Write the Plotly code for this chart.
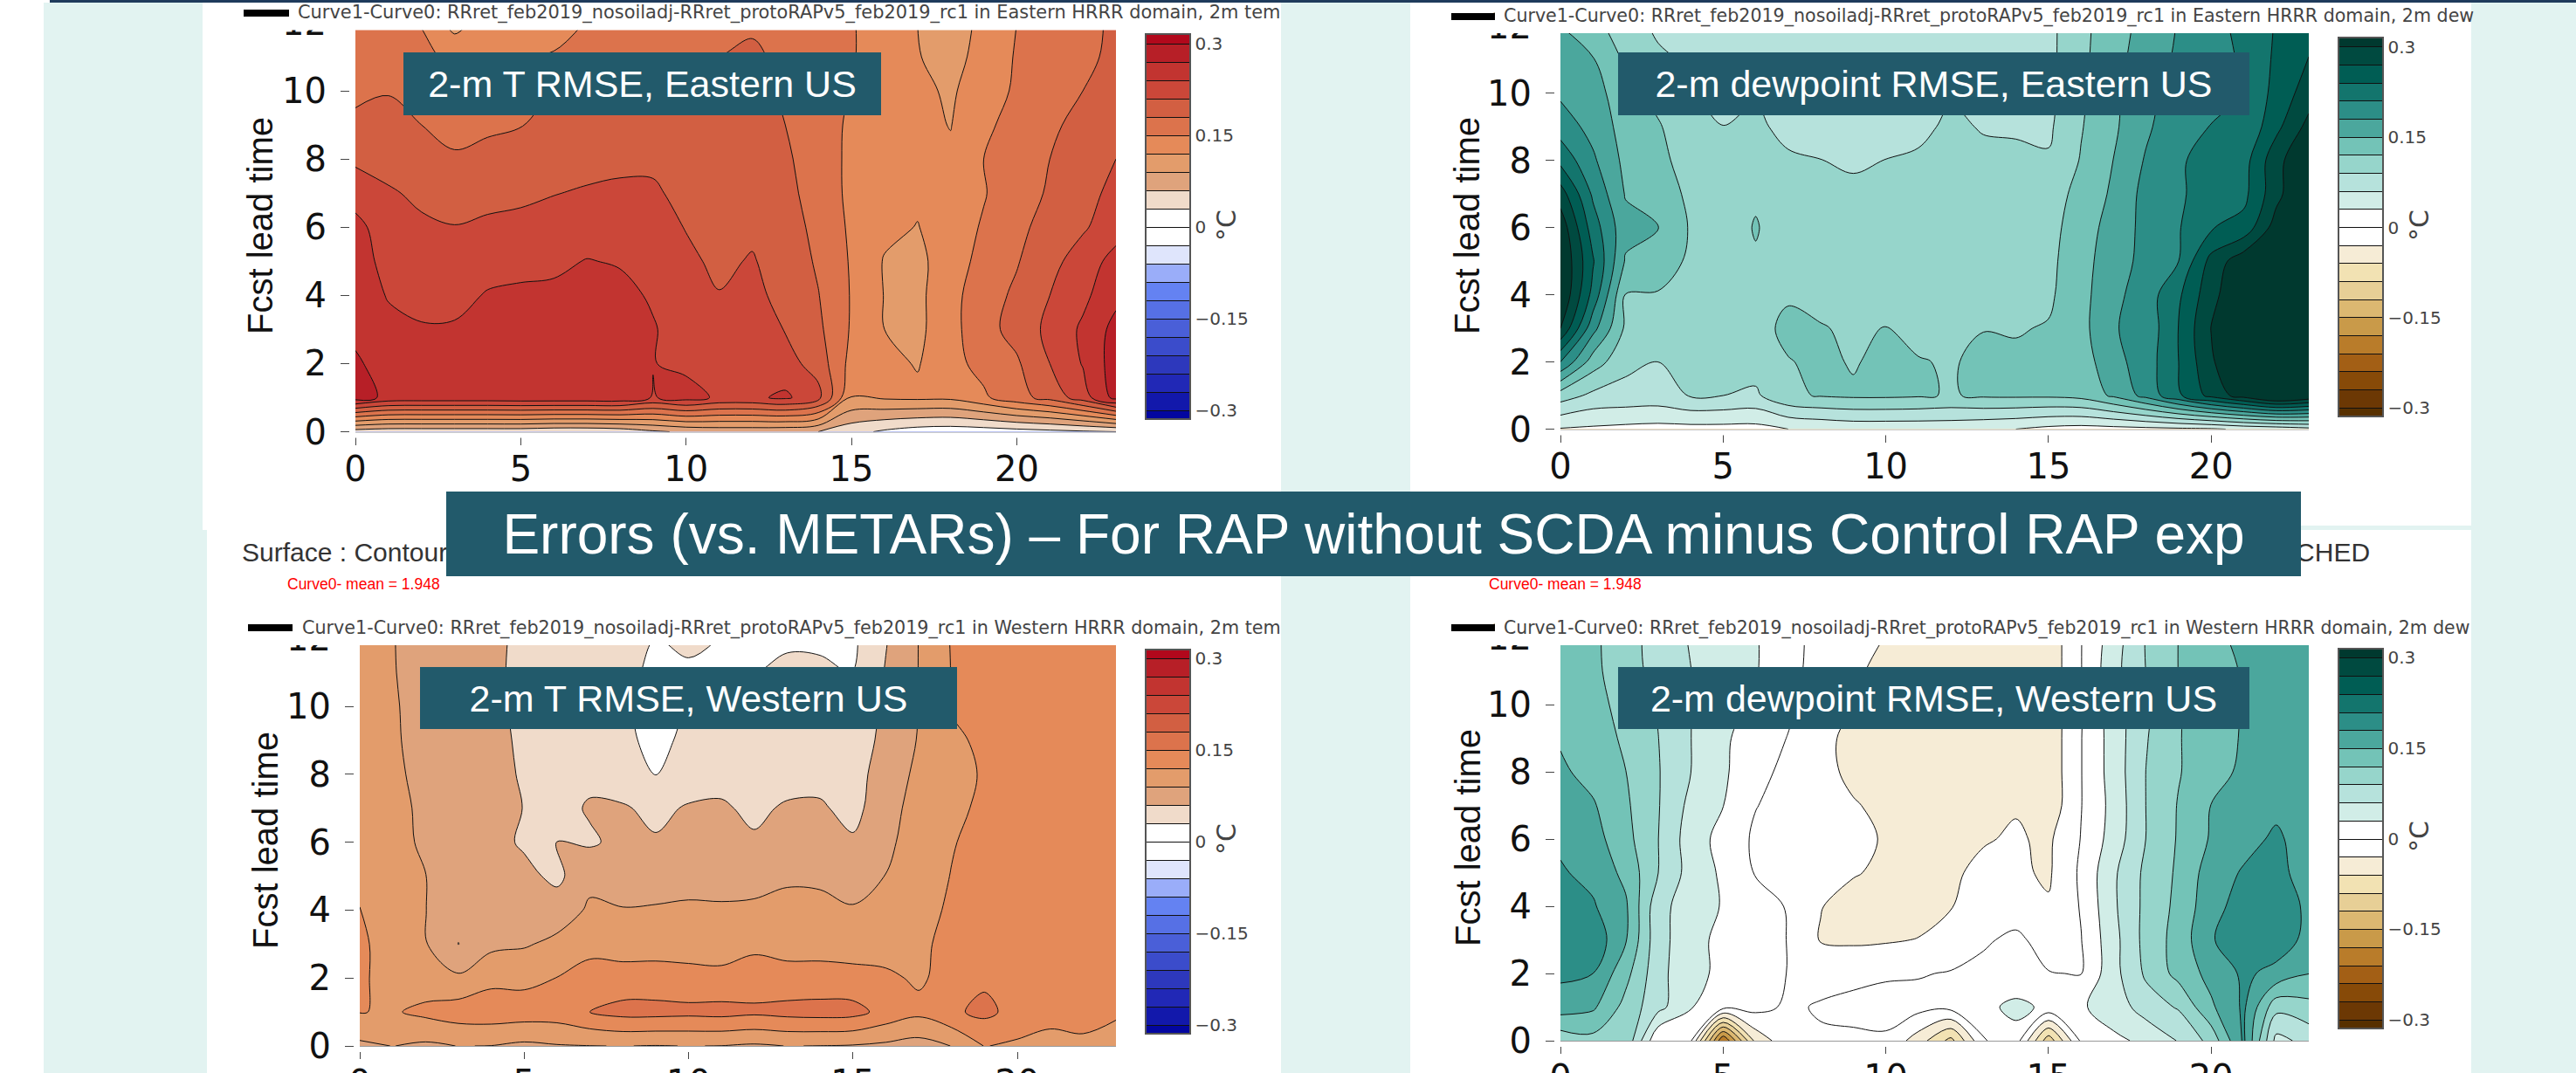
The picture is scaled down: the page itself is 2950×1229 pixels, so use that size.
import plotly.graph_objects as go

W, H = 2950, 1229

hours = list(range(24))
leads = list(range(13))

# Values: one list per hour (x = 0..23), lead time 0..12
t_east = [
 [.045,.285,.275,.262,.257,.254,.25,.226,.205,.188,.172,.165,.16],
 [.04,.262,.255,.248,.238,.23,.222,.213,.2,.186,.179,.17,.165],
 [.04,.26,.25,.242,.233,.225,.214,.205,.193,.18,.172,.16,.148],
 [.04,.26,.252,.243,.232,.222,.211,.197,.183,.172,.16,.14,.11],
 [.04,.26,.254,.247,.242,.23,.216,.2,.187,.176,.165,.148,.133],
 [.04,.262,.258,.25,.243,.235,.218,.204,.192,.179,.166,.15,.135],
 [.035,.262,.26,.252,.245,.235,.222,.209,.198,.188,.18,.152,.14],
 [.035,.262,.262,.255,.248,.241,.228,.213,.2,.192,.186,.168,.151],
 [.04,.262,.262,.256,.247,.238,.225,.214,.205,.197,.19,.178,.162],
 [.055,.238,.241,.242,.237,.228,.22,.213,.206,.198,.19,.18,.165],
 [.065,.252,.233,.228,.223,.215,.209,.204,.198,.193,.188,.178,.165],
 [.07,.235,.228,.22,.211,.205,.202,.198,.195,.192,.188,.18,.167],
 [.07,.235,.228,.22,.215,.212,.205,.2,.197,.195,.192,.189,.172],
 [.068,.245,.222,.209,.204,.198,.193,.188,.184,.18,.175,.168,.16],
 [.06,.22,.197,.186,.181,.176,.172,.168,.167,.164,.162,.16,.158],
 [.04,.1195,.14,.147,.148,.147,.145,.143,.143,.145,.149,.152,.152],
 [.025,.124,.128,.12,.119,.118,.127,.13,.135,.138,.14,.137,.137],
 [.015,.126,.118,.113,.113,.113,.119,.125,.128,.128,.128,.122,.12],
 [.012,.126,.14,.14,.14,.135,.135,.13,.125,.119,.115,.105,.10],
 [.014,.145,.16,.17,.168,.16,.153,.148,.15,.146,.14,.135,.13],
 [.018,.17,.176,.19,.185,.178,.172,.168,.165,.157,.153,.152,.15],
 [.022,.19,.21,.218,.21,.2,.192,.183,.18,.174,.17,.165,.16],
 [.026,.226,.242,.245,.233,.225,.206,.2,.195,.19,.18,.175,.175],
 [.03,.28,.285,.28,.262,.25,.228,.218,.21,.202,.19,.185,.183],
]

td_east = [
 [.028,.105,.21,.30,.33,.33,.32,.285,.232,.196,.175,.162,.15],
 [.025,.083,.135,.19,.23,.243,.225,.205,.185,.17,.165,.152,.13],
 [.022,.08,.098,.115,.119,.147,.16,.148,.142,.138,.128,.115,.103],
 [.02,.078,.09,.11,.118,.135,.1505,.138,.127,.123,.111,.095,.085],
 [.02,.092,.10,.105,.11,.115,.117,.113,.109,.10,.093,.086,.08],
 [.02,.09,.098,.10,.103,.105,.105,.103,.10,.0905,.08,.078,.078],
 [.02,.085,.103,.105,.108,.117,.122,.116,.10,.097,.087,.078,.076],
 [.03,.115,.118,.13,.115,.108,.105,.102,.095,.08,.077,.076,.075],
 [.035,.122,.128,.122,.11,.105,.102,.098,.0905,.08,.077,.076,.075],
 [.04,.125,.117,.115,.108,.104,.10,.098,.085,.08,.077,.076,.075],
 [.04,.125,.13,.121,.108,.104,.102,.10,.0905,.08,.077,.076,.075],
 [.04,.123,.122,.11,.106,.104,.102,.10,.096,.08,.077,.076,.075],
 [.04,.118,.117,.107,.106,.104,.102,.101,.10,.098,.086,.08,.078],
 [.035,.124,.128,.119,.108,.105,.103,.102,.10,.087,.078,.076,.075],
 [.03,.125,.125,.118,.11,.106,.105,.103,.097,.086,.08,.078,.077],
 [.022,.125,.127,.122,.115,.112,.108,.105,.093,.085,.082,.082,.082],
 [.018,.13,.135,.14,.14,.14,.138,.13,.122,.118,.115,.113,.112],
 [.02,.155,.17,.178,.172,.165,.16,.155,.1505,.145,.143,.14,.137],
 [.022,.19,.195,.19,.195,.19,.19,.19,.183,.175,.173,.165,.16],
 [.024,.235,.24,.241,.235,.21,.208,.205,.205,.2,.19,.185,.182],
 [.026,.28,.295,.301,.29,.28,.238,.226,.225,.211,.2,.195,.198],
 [.035,.315,.34,.33,.33,.32,.25,.232,.228,.213,.211,.215,.22],
 [.04,.35,.36,.36,.36,.36,.315,.29,.29,.262,.25,.245,.242],
 [.05,.33,.36,.36,.36,.36,.36,.34,.33,.31,.285,.271,.26],
]

t_west = [
 [.084,.121,.125,.125,.1205,.115,.112,.11,.11,.11,.11,.11,.11],
 [.0905,.117,.108,.108,.105,.103,.1,.1,.1,.098,.096,.093,.092],
 [.085,.127,.103,.092,.0905,.0905,.085,.083,.075,.068,.068,.067,.068],
 [.0905,.135,.095,.0595,.07,.072,.072,.07,.068,.068,.068,.066,.066],
 [.0895,.137,.112,.083,.078,.072,.07,.068,.066,.065,.064,.064,.065],
 [.084,.135,.112,.087,.078,.068,.056,.0595,.058,.057,.056,.055,.055],
 [.088,.135,.1205,.097,.075,.053,.0601,.05,.048,.047,.046,.045,.045],
 [.0895,.15,.135,.108,.094,.083,.056,.063,.053,.05,.048,.045,.045],
 [.0905,.16,.131,.108,.091,.08,.068,.062,.048,.04,.036,.04,.043],
 [.089,.16,.131,.109,.092,.08,.062,.055,.0295,.018,.018,.022,.03],
 [.0905,.158,.129,.108,.093,.083,.07,.062,.048,.04,.032,.027,.034],
 [.0895,.16,.127,.108,.092,.084,.072,.063,.052,.045,.036,.028,.0295],
 [.086,.156,.133,.114,.095,.08,.063,.055,.05,.045,.038,.0295,.028],
 [.0905,.16,.13,.11,.096,.087,.072,.063,.05,.045,.04,.034,.027],
 [.0895,.162,.13,.11,.096,.086,.073,.064,.05,.046,.04,.034,.026],
 [.088,.16,.13,.106,.092,.08,.064,.05,.05,.048,.04,.0295,.025],
 [.084,.14,.125,.108,.1,.0905,.084,.08,.072,.066,.065,.062,.058],
 [.078,.127,.116,.113,.108,.105,.103,.1,.097,.092,.0905,.0905,.0905],
 [.0905,.145,.13,.13,.125,.121,.118,.115,.113,.115,.122,.121,.122],
 [.121,.157,.145,.138,.135,.132,.13,.124,.122,.125,.13,.13,.13],
 [.115,.14,.138,.135,.135,.135,.135,.135,.135,.135,.135,.135,.135],
 [.105,.135,.138,.136,.135,.135,.135,.135,.135,.135,.135,.135,.135],
 [.107,.143,.14,.136,.135,.135,.135,.135,.135,.135,.135,.135,.135],
 [.098,.127,.135,.135,.135,.135,.135,.135,.135,.135,.135,.135,.135],
]

td_west = [
 [.10,.165,.186,.2,.2,.183,.175,.165,.155,.147,.14,.135,.13],
 [.11,.155,.18,.2,.183,.172,.162,.153,.14,.135,.13,.127,.125],
 [.115,.11,.13,.153,.155,.142,.13,.125,.1205,.115,.11,.103,.105],
 [.002,.07,.07,.07,.07,.0905,.0905,.092,.092,.0905,.088,.08,.075],
 [.005,.032,.038,.043,.045,.048,.045,.052,.0605,.0605,.0605,.0605,.058],
 [-.21,.01,.024,.02,.028,.025,.02,.0305,.034,.035,.04,.04,.042],
 [-.05,.01,.016,.015,.012,-.002,-.005,.001,.012,.015,.025,.032,.032],
 [-.01,-.005,-.001,-.001,-.002,-.012,-.012,-.01,-.01,-.001,.005,.008,.012],
 [-.004,.003,-.012,-.032,-.029,-.02,-.018,-.018,-.022,-.02,-.015,-.01,-.012],
 [-.004,.006,-.006,-.035,-.04,-.028,-.024,-.028,-.036,-.04,-.0295,-.027,-.022],
 [-.005,.012,-.004,-.033,-.042,-.035,-.032,-.036,-.04,-.04,-.04,-.035,-.0305],
 [-.045,.01,-.002,-.029,-.042,-.04,-.04,-.04,-.042,-.042,-.042,-.04,-.04],
 [-.1,.01,.002,-.02,-.031,-.034,-.04,-.042,-.042,-.042,-.042,-.042,-.042],
 [-.002,.02,.006,-.003,-.02,-.024,-.032,-.04,-.042,-.042,-.042,-.042,-.042],
 [.015,.04,.001,.005,-.012,-.025,-.027,-.032,-.042,-.042,-.042,-.042,-.042],
 [-.11,.022,.001,-.01,-.027,-.034,-.035,-.05,-.05,-.05,-.05,-.05,-.05],
 [.005,.027,-.001,-.001,.002,.005,.001,-.001,-.001,-.001,-.002,-.001,-.001],
 [.025,.042,.05,.05,.055,.055,.043,.04,.043,.043,.045,.05,.045],
 [.035,.075,.095,.10,.098,.097,.0905,.0905,.0905,.088,.085,.0905,.092],
 [.062,.093,.13,.132,.128,.125,.123,.122,.118,.118,.118,.1205,.1205],
 [.10,.145,.16,.178,.17,.165,.153,.1505,.14,.14,.138,.14,.142],
 [.185,.185,.185,.195,.192,.183,.17,.16,.155,.152,.152,.152,.158],
 [.05,.10,.172,.195,.2,.19,.185,.173,.16,.157,.155,.155,.155],
 [.07,.11,.1505,.172,.173,.165,.165,.162,.16,.158,.158,.158,.158],
]

# Filled band colours, lowest band first
red_blue = ["#0306A0","#1218AB","#2128B6","#2D38BC","#3B4CCB","#4A5FD8","#5670E5","#6482F2",
            "#9AADF9","#DFE5FC","#FFFFFF","#FFFFFF","#F0DBCA","#DFA37C","#E39C6B","#E58A59",
            "#DC734C","#D25F42","#CB4739","#C23430","#B71F27","#B2081C"]
brown_green = ["#573000","#6C3804","#874A08","#A35F15","#B97C2A","#C99A49","#DCB871","#E7CF96",
               "#F2E2B3","#F6ECD6","#FFFFFF","#FFFFFF","#D1EDE7","#B6E2DC","#96D5CB","#73C3B7",
               "#4BA79D","#2C8E87","#13756D","#005D54","#004A40","#00392F"]

bar_ticks = [-0.3, -0.15, 0, 0.15, 0.3]
x_ticks = [0, 5, 10, 15, 20]
y_ticks = [0, 2, 4, 6, 8, 10, 12]

legend_base = "Curve1-Curve0: RRret_feb2019_nosoiladj-RRret_protoRAPv5_feb2019_rc1 in "
panels = [
    dict(z=t_east, cs=red_blue, x0=407, x1=1278, y0=494.5, unit=39.05, crop=34.5,
         bar=(1312, 1363, 39.5, 480.5), legend=legend_base + "Eastern HRRR domain, 2m tem", fs=20.9,
         lx=339, ly=15, lb=(279, 331), banner="2-m T RMSE, Eastern US", bn=(462, 1009, 60, 132),
         tx=298, ty=259, ctx=1404, cty=258),
    dict(z=td_east, cs=brown_green, x0=1787, x1=2644, y0=491.5, unit=38.46, crop=38,
         bar=(2678, 2729, 43.5, 477.5), legend=legend_base + "Eastern HRRR domain, 2m dew", fs=20.6,
         lx=1720, ly=19, lb=(1662, 1712), banner="2-m dewpoint RMSE, Eastern US", bn=(1853, 2576, 60, 132),
         tx=1680, ty=259, ctx=2770, cty=258),
    dict(z=t_west, cs=red_blue, x0=412, x1=1278, y0=1198, unit=38.9, crop=739,
         bar=(1312, 1363, 744, 1184), legend=legend_base + "Western HRRR domain, 2m tem", fs=20.7,
         lx=344, ly=719, lb=(284, 335), banner="2-m T RMSE, Western US", bn=(481, 1096, 764, 835),
         tx=304, ty=963, ctx=1404, cty=961, mean=327),
    dict(z=td_west, cs=brown_green, x0=1787, x1=2644, y0=1192, unit=38.5, crop=739,
         bar=(2678, 2729, 743.5, 1178), legend=legend_base + "Western HRRR domain, 2m dew", fs=20.4,
         lx=1720, ly=719, lb=(1662, 1712), banner="2-m dewpoint RMSE, Western US", bn=(1853, 2576, 764, 835),
         tx=1681, ty=960, ctx=2770, cty=958, mean=1703),
]

TEAL = "#E2F3F1"
BANNER = "#225A6B"
SANS = "Liberation Sans"
WIDE = "DejaVu Sans"


def px(v):
    return v / W


def py(v):
    return 1 - v / H


def rect(x0, y0, x1, y1, color, layer="below"):
    return dict(type="rect", xref="paper", yref="paper", x0=px(x0), x1=px(x1), y0=py(y0), y1=py(y1),
                fillcolor=color, line=dict(width=0), layer=layer)


def text(x, y, s, size, color="#333", font=SANS, xanchor="left", angle=0):
    return dict(xref="paper", yref="paper", x=px(x), y=py(y), text=s, showarrow=False, xanchor=xanchor,
                yanchor="middle", textangle=angle, font=dict(size=size, color=color, family=font))


def banner(x0, x1, y0, y1, s, size):
    return dict(xref="paper", yref="paper", x=px(x0), y=py(y0), xanchor="left", yanchor="top",
                width=x1 - x0, height=y1 - y0, bgcolor=BANNER, borderpad=0, borderwidth=0, align="center",
                valign="middle", text=s, showarrow=False, font=dict(size=size, color="white", family=SANS))


fig = go.Figure()
shapes = [
    rect(50, 3, W, H, TEAL),
    rect(232, 3, 1467, 607, "white"),
    rect(237, 607, 1467, H, "white"),
    rect(1615, 3, 2830, 602, "white"),
    rect(1615, 607, 2830, H, "white"),
    rect(57, 0, W, 3, "#1F3B5C"),
]
annotations = []
layout_axes = {}

for i, p in enumerate(panels, start=1):
    xname, yname = f"x{i}", f"y{i}"
    bx0, bx1, by0, by1 = p["bar"]
    n = len(p["cs"]) - 1
    fig.add_trace(go.Contour(
        x=hours, y=leads, z=[list(r) for r in zip(*p["z"])],
        xaxis=xname, yaxis=yname,
        colorscale=[[k / n, c] for k, c in enumerate(p["cs"])],
        autocontour=False, zmin=-0.315, zmax=0.315,
        contours=dict(start=-0.3, end=0.3, size=0.03, coloring="fill", showlines=True),
        line=dict(color="#111", width=1, smoothing=1),
        colorbar=dict(x=px(bx0), xanchor="left", xpad=0, ypad=0, thickness=bx1 - bx0, thicknessmode="pixels",
                      y=py(by1), yanchor="bottom", len=(by1 - by0) / H, lenmode="fraction",
                      tickmode="array", tickvals=bar_ticks, ticks="",
                      tickfont=dict(size=20, color="#444", family=WIDE),
                      outlinecolor="#555", outlinewidth=2, borderwidth=0),
        hoverinfo="skip",
    ))
    y12 = p["y0"] - 12 * p["unit"]
    layout_axes[f"xaxis{i}"] = dict(domain=[px(p["x0"]), px(p["x1"])], range=[0, 23], anchor=yname,
                                    tickmode="array", tickvals=x_ticks, ticks="outside", ticklen=14, tickcolor="#444",
                                    showgrid=False, zeroline=False, showline=True, linecolor="#999", ticklabelstandoff=-7,
                                    tickfont=dict(size=40, color="#111", family=WIDE))
    layout_axes[f"yaxis{i}"] = dict(domain=[py(p["y0"]), py(y12)], range=[0, 12], anchor=xname,
                                    tickmode="array", tickvals=y_ticks, ticks="outside", ticklen=16, tickcolor="#444",
                                    showgrid=False, zeroline=False, showline=False, ticklabelstandoff=8,
                                    tickfont=dict(size=40, color="#111", family=WIDE))
    # white strips that cut the slide picture: top crop and gap between plot and ticks
    shapes.append(rect(p["lb"][0] + 50, p["ly"] - 8, p["x1"] + 10, p["crop"], "white", "above"))
    shapes.append(rect(p["x0"] - 8, p["y0"] + 1, p["x1"] + 8, p["y0"] + 7, "white", "above"))
    shapes.append(rect(p["x0"] - 7, p["crop"], p["x0"] - 1, p["y0"] + 7, "white", "above"))
    shapes.append(rect(p["lb"][0], p["ly"] - 4, p["lb"][1], p["ly"] + 4, "black", "above"))
    annotations.append(text(p["lx"], p["ly"], p["legend"], p["fs"], "#444", WIDE))
    annotations.append(text(p["tx"], p["ty"], "Fcst lead time", 40, "#111", SANS, "center", -90))
    annotations.append(text(p["ctx"], p["cty"], "°C", 30, "#444", WIDE, "center", -90))
    if "mean" in p:
        annotations.append(text(p["mean"], 669, "Curve0- mean = 1.948", 17.5, "red"))

annotations.append(text(275, 632, "Surface : Contour Plot", 30))
annotations.append(text(2716, 632, "MATCHED", 30, xanchor="right"))
for p in panels:
    x0, x1, y0, y1 = p["bn"]
    annotations.append(banner(x0, x1, y0, y1, p["banner"], 43))
annotations.append(banner(511, 2635, 563, 660, "Errors (vs. METARs) – For RAP without SCDA minus Control RAP exp", 64))

fig.update_layout(width=W, height=H, margin=dict(l=0, r=0, t=0, b=0, pad=0, autoexpand=False), paper_bgcolor="white",
                  plot_bgcolor="white", showlegend=False, shapes=shapes, annotations=annotations, **layout_axes)
fig.write_html("out.html", config={"displayModeBar": False},
               post_script="document.body.style.margin='0';document.documentElement.style.overflow='hidden';")
